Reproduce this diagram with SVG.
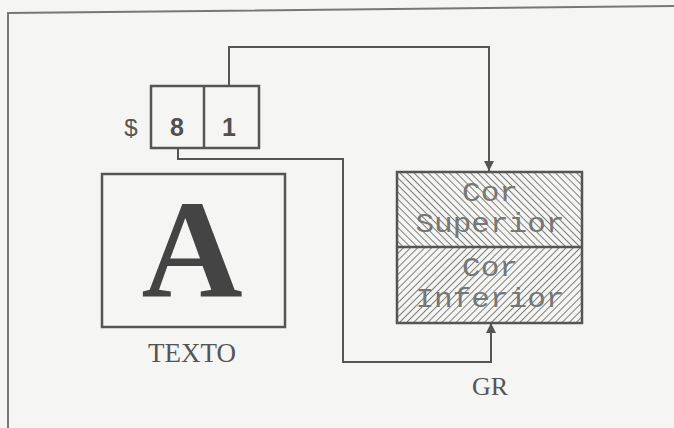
<svg xmlns="http://www.w3.org/2000/svg" width="674" height="428" viewBox="0 0 674 428">
<style>
.ln{fill:none;stroke:#555;stroke-width:2}
.bx{fill:none;stroke:#555;stroke-width:2.5}
.dig{font-family:"Liberation Sans",Arial,sans-serif;font-weight:bold;font-size:25px;fill:#505050;text-anchor:middle}
.mono{font-family:"Liberation Mono","Courier New",monospace;font-size:27px;fill:#777;text-anchor:middle}
.lbl{font-family:"Liberation Serif","Times New Roman",serif;fill:#555;text-anchor:middle}
</style>
<defs>
<marker id="arr" viewBox="0 0 10 14" refX="10" refY="7" markerWidth="10" markerHeight="14" markerUnits="userSpaceOnUse" orient="auto">
<path d="M0,2 L10,7 L0,12 Z" fill="#555"/>
</marker>
<pattern id="hb" width="5" height="5" patternUnits="userSpaceOnUse" patternTransform="rotate(-45)">
<line x1="0" y1="0" x2="0" y2="5" stroke="#555" stroke-width="1.5"/>
</pattern>
<pattern id="hf" width="5" height="5" patternUnits="userSpaceOnUse" patternTransform="rotate(45)">
<line x1="0" y1="0" x2="0" y2="5" stroke="#555" stroke-width="1.5"/>
</pattern>
</defs>
<rect width="674" height="428" fill="#f5f5f3"/>
<polyline points="8,428 8,13 674,6" fill="none" stroke="#777" stroke-width="2"/>

<g id="connectors">
<polyline class="ln" points="229,86 229,47 489,47 489,171" marker-end="url(#arr)"/>
<polyline class="ln" points="178,148 178,159 343,159 343,362 491,362 491,323" marker-end="url(#arr)"/>
</g>

<g id="register">
<text x="131" y="136" font-family="Liberation Sans,Arial,sans-serif" font-size="24" fill="#555" text-anchor="middle">$</text>
<rect class="bx" x="151" y="86" width="108" height="62"/>
<line class="bx" x1="204" y1="86" x2="204" y2="148"/>
<text class="dig" x="177" y="136">8</text>
<text class="dig" x="229" y="136">1</text>
</g>

<g id="texto">
<rect class="bx" x="102" y="174" width="183" height="153"/>
<text x="192" y="297" font-family="Liberation Serif,Times New Roman,serif" font-weight="bold" font-size="140" fill="#444" text-anchor="middle">A</text>
<text class="lbl" x="192" y="362" font-size="27">TEXTO</text>
</g>

<g id="gr">
<rect x="397" y="172" width="185" height="75" fill="url(#hb)"/>
<rect x="397" y="247" width="185" height="76" fill="url(#hf)"/>
<rect class="bx" x="397" y="172" width="185" height="151"/>
<line class="bx" x1="397" y1="247" x2="582" y2="247"/>
<text class="mono" x="490" y="201" textLength="56" lengthAdjust="spacingAndGlyphs">Cor</text>
<text class="mono" x="490" y="232" textLength="149" lengthAdjust="spacingAndGlyphs">Superior</text>
<text class="mono" x="490" y="276" textLength="56" lengthAdjust="spacingAndGlyphs">Cor</text>
<text class="mono" x="490" y="307" textLength="149" lengthAdjust="spacingAndGlyphs">Inferior</text>
<text class="lbl" x="490" y="395" font-size="26">GR</text>
</g>
</svg>
